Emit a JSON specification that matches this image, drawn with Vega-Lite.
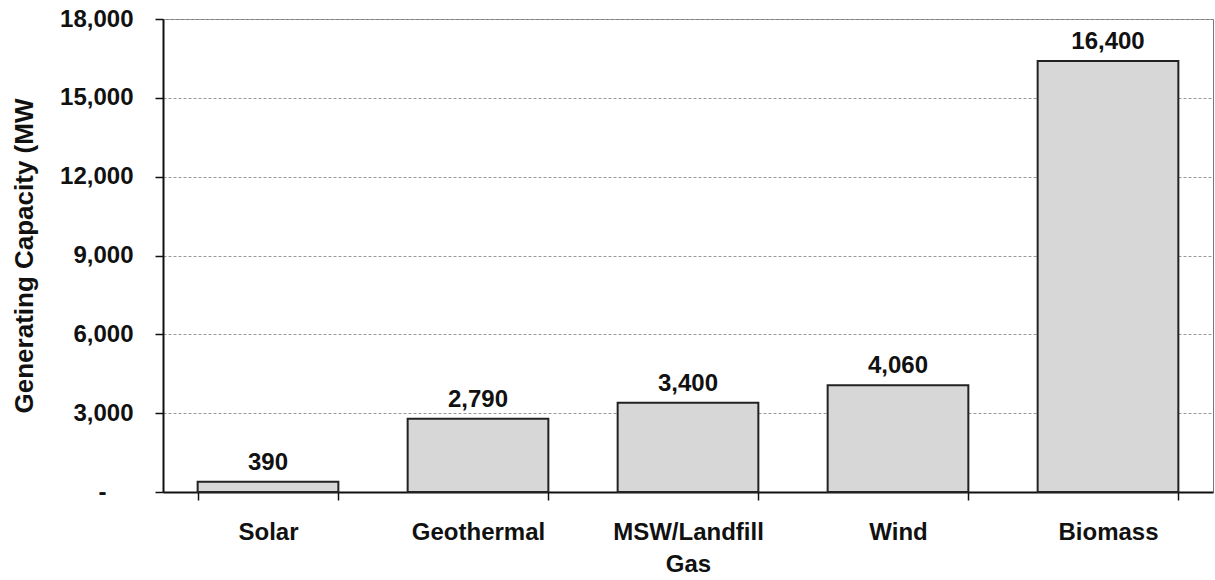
{
  "$schema": "https://vega.github.io/schema/vega-lite/v6.json",
  "autosize": "none",
  "width": 1050,
  "height": 473,
  "padding": {"left": 163, "top": 19, "right": 2, "bottom": 88},
  "background": "white",
  "config": {
    "font": "Liberation Sans",
    "view": {"stroke": "#777777", "strokeWidth": 1}
  },
  "data": {
    "values": [
      {"source": "Solar", "mw": 390},
      {"source": "Geothermal", "mw": 2790},
      {"source": "MSW/Landfill Gas", "mw": 3400},
      {"source": "Wind", "mw": 4060},
      {"source": "Biomass", "mw": 16400}
    ]
  },
  "encoding": {
    "x": {
      "field": "source",
      "type": "nominal",
      "sort": null,
      "scale": {"paddingInner": 0.33, "paddingOuter": 0.165},
      "axis": {
        "title": null,
        "labelAngle": 0,
        "labelFont": "Liberation Sans",
        "labelFontSize": 24,
        "labelFontWeight": "bold",
        "labelColor": "#111111",
        "labelPadding": 20,
        "labelLineHeight": 32,
        "labelExpr": "datum.value == 'MSW/Landfill Gas' ? ['MSW/Landfill', 'Gas'] : datum.value",
        "tickBand": "extent",
        "tickSize": 8,
        "tickColor": "#111111",
        "tickWidth": 1.5,
        "domainColor": "#111111",
        "domainWidth": 2,
        "grid": false
      }
    },
    "y": {
      "field": "mw",
      "type": "quantitative",
      "scale": {"domain": [0, 18000], "nice": false},
      "axis": {
        "title": "Generating Capacity (MW",
        "titleFont": "Liberation Sans",
        "titleFontSize": 26,
        "titleFontWeight": "bold",
        "titleColor": "#111111",
        "titlePadding": 22,
        "values": [0, 3000, 6000, 9000, 12000, 15000, 18000],
        "labelExpr": "datum.value == 0 ? '-' : format(datum.value, ',')",
        "labelFont": "Liberation Sans",
        "labelFontSize": 24,
        "labelFontWeight": "bold",
        "labelColor": "#111111",
        "labelPadding": {"condition": {"test": "datum.value == 0", "value": 49}, "value": 22},
        "tickSize": 8,
        "tickColor": "#111111",
        "tickWidth": 1.5,
        "domainColor": "#111111",
        "domainWidth": 2,
        "grid": true,
        "gridColor": "#9a9a9a",
        "gridDash": [3, 2],
        "gridWidth": 1
      }
    }
  },
  "layer": [
    {
      "mark": {"type": "bar", "fill": "#d7d7d7", "stroke": "#222222", "strokeWidth": 2}
    },
    {
      "mark": {
        "type": "text",
        "baseline": "alphabetic",
        "dy": -12,
        "font": "Liberation Sans",
        "fontSize": 24,
        "fontWeight": "bold",
        "color": "#111111"
      },
      "encoding": {
        "text": {"field": "mw", "type": "quantitative", "format": ","}
      }
    }
  ]
}
